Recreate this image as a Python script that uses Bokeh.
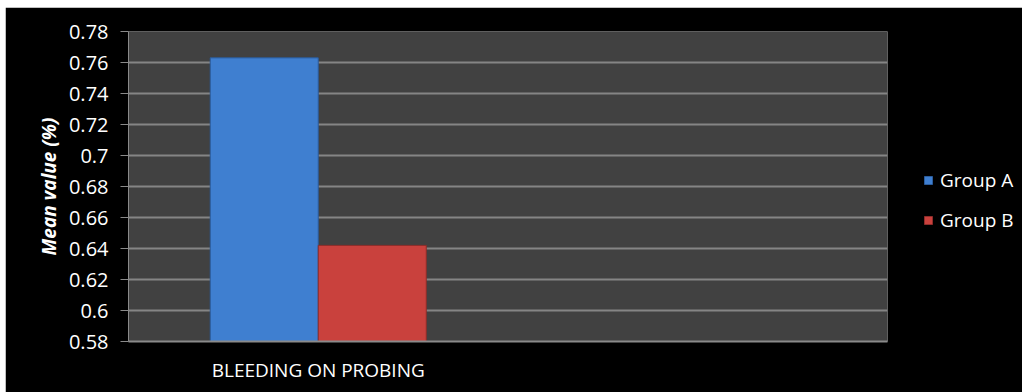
from bokeh.plotting import figure
from bokeh.models import (FactorRange, Range1d, FixedTicker, ColumnDataSource,
                          Legend, LegendItem)
from bokeh.transform import dodge
from bokeh.embed import file_html
from bokeh.resources import INLINE

# ---- data ----
categories = ["BLEEDING ON PROBING"]
series_names = ["Group A", "Group B"]
group_a = [0.763]
group_b = [0.642]
y_ticks = [0.58, 0.60, 0.62, 0.64, 0.66, 0.68, 0.70, 0.72, 0.74, 0.76, 0.78]
y_tick_labels = ["0.58", "0.6", "0.62", "0.64", "0.66", "0.68", "0.7", "0.72", "0.74", "0.76", "0.78"]
y_start, y_end = 0.58, 0.78

FONT = "Open Sans"
source = ColumnDataSource(dict(cat=categories, a=group_a, b=group_b))

p = figure(
    frame_width=759, frame_height=310,
    x_range=FactorRange(factors=categories + [" "]),
    y_range=Range1d(y_start, y_end),
    output_backend="svg", toolbar_location=None,
    min_border_left=123, min_border_right=135,
    min_border_top=24, min_border_bottom=51,
)
p.margin = (7, 0, 0, 5)
p.background_fill_color = "#414141"
p.border_fill_color = "#000000"
p.outline_line_color = None

bw = 0.2846
ra = p.vbar(x=dodge("cat", -bw / 2, range=p.x_range), top="a", bottom=y_start,
            width=bw, source=source, fill_color="#3f7fd0", line_color="#2b5c9c",
            line_width=1)
rb = p.vbar(x=dodge("cat", bw / 2, range=p.x_range), top="b", bottom=y_start,
            width=bw, source=source, fill_color="#c9413d", line_color="#8e2c2a",
            line_width=1)

# y axis
p.yaxis.ticker = FixedTicker(ticks=y_ticks)
p.yaxis.major_label_overrides = {t: l for t, l in zip(y_ticks, y_tick_labels)}
p.yaxis.axis_label = "Mean value (%)"
p.yaxis.axis_label_text_font = FONT
p.yaxis.axis_label_text_font_style = "bold italic"
p.yaxis.axis_label_text_font_size = "19px"
p.yaxis.axis_label_text_color = "#ffffff"
p.yaxis.axis_label_standoff = 4
p.yaxis.major_label_text_font = FONT
p.yaxis.major_label_text_font_size = "20px"
p.yaxis.major_label_text_color = "#ffffff"
p.yaxis.major_label_standoff = 12
p.yaxis.major_tick_out = 8
p.yaxis.major_tick_in = 0
p.yaxis.minor_tick_line_color = None
p.yaxis.axis_line_color = "#8a8a8a"
p.yaxis.major_tick_line_color = "#8a8a8a"

# x axis
p.xaxis.major_label_text_font = FONT
p.xaxis.major_label_text_font_size = "19px"
p.xaxis.major_label_text_color = "#ffffff"
p.xaxis.major_label_standoff = 9
p.xaxis.major_tick_line_color = None
p.xaxis.axis_line_color = "#8a8a8a"
p.xaxis.axis_line_width = 2

# grid
p.xgrid.grid_line_color = None
p.ygrid.ticker = FixedTicker(ticks=y_ticks)
p.ygrid.grid_line_color = "#858585"
p.ygrid.grid_line_width = 2

legend = Legend(
    items=[LegendItem(label=series_names[0], renderers=[ra]),
           LegendItem(label=series_names[1], renderers=[rb])],
    location=(36, 108),
    label_text_font=FONT, label_text_font_size="19px", label_text_color="#ffffff",
    label_height=20, glyph_height=10, glyph_width=10, spacing=14,
    padding=0, margin=0, label_standoff=7,
    border_line_color=None, background_fill_alpha=0,
)
p.add_layout(legend, "right")

open("out.html", "w").write(file_html(p, INLINE))
